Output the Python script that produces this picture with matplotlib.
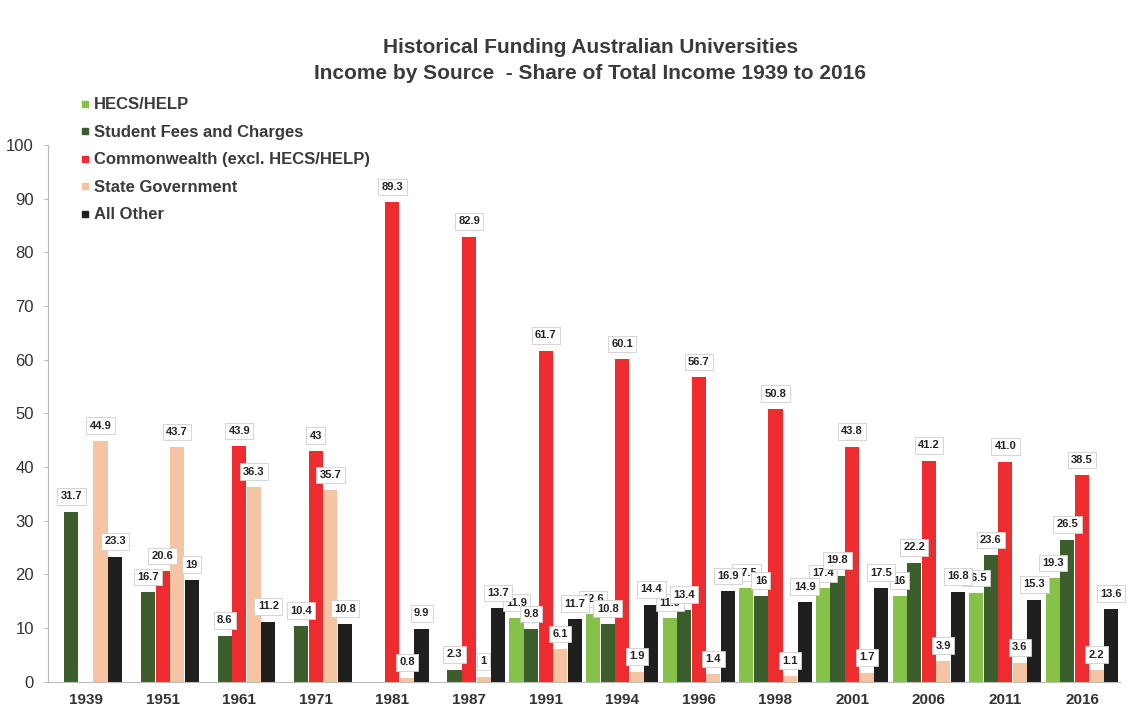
import numpy as np
import matplotlib
matplotlib.use("Agg")
import matplotlib.pyplot as plt
from matplotlib.lines import Line2D

plt.rcParams['font.family'] = ['Liberation Sans', 'DejaVu Sans']

years = ['1939', '1951', '1961', '1971', '1981', '1987', '1991', '1994',
         '1996', '1998', '2001', '2006', '2011', '2016']
series_names = ['HECS/HELP', 'Student Fees and Charges',
                'Commonwealth (excl. HECS/HELP)', 'State Government', 'All Other']

hecs = [0, 0, 0, 0, 0, 0, 11.9, 12.6, 11.9, 17.5, 17.4, 16.0, 16.5, 19.3]
fees = [31.7, 16.7, 8.6, 10.4, 0, 2.3, 9.8, 10.8, 13.4, 16, 19.8, 22.2, 23.6, 26.5]
cwlth = [0, 20.6, 43.9, 43, 89.3, 82.9, 61.7, 60.1, 56.7, 50.8, 43.8, 41.2, 41.0, 38.5]
state = [44.9, 43.7, 36.3, 35.7, 0.8, 1, 6.1, 1.9, 1.4, 1.1, 1.7, 3.9, 3.6, 2.2]
other = [23.3, 19, 11.2, 10.8, 9.9, 13.7, 11.7, 14.4, 16.9, 14.9, 17.5, 16.8, 15.3, 13.6]

colors = ['#86c24a', '#3b5e2c', '#ee2b2f', '#f5c4a3', '#1f1f1f']

fig = plt.figure(figsize=(11.35, 7.14), dpi=100)
ax = fig.add_axes([0.042, 0.045, 0.945, 0.752])

x = np.arange(len(years))
w = 0.19
all_series = [hecs, fees, cwlth, state, other]
for i, (vals, c) in enumerate(zip(all_series, colors)):
    pos = x + (i - 2) * w
    ax.bar(pos, vals, width=w * 0.97, color=c, zorder=2)
    for px, v in zip(pos, vals):
        if v == 0:
            continue
        txt = ('%g' % v) if v != 41.0 else '41.0'
        ax.annotate(txt, (px, v), xytext=(0, 11), textcoords='offset points',
                    ha='center', va='center', fontsize=8, fontweight='bold',
                    color='#222222', zorder=5 + i,
                    bbox=dict(boxstyle='square,pad=0.3', fc='white',
                              ec='#cfcfcf', lw=0.6))

ax.set_xlim(-0.5, 13.5)
ax.set_ylim(0, 100)
ax.set_yticks(range(0, 101, 10))
ax.set_xticks(x)
ax.set_xticklabels(years, fontweight='bold', fontsize=11, color='#333333')
ax.tick_params(axis='y', labelsize=12, colors='#333333', length=3,
               color='#bbbbbb', pad=7)
ax.tick_params(axis='x', length=0, pad=8)
for s in ['top', 'right']:
    ax.spines[s].set_visible(False)
ax.spines['left'].set_color('#bbbbbb')
ax.spines['bottom'].set_color('#bbbbbb')

fig.text(0.52, 0.915, 'Historical Funding Australian Universities\n'
         'Income by Source  - Share of Total Income 1939 to 2016',
         ha='center', va='center', fontsize=15, fontweight='bold',
         color='#3a3a3a', linespacing=1.45)

handles = [Line2D([0], [0], marker='s', linestyle='none', markersize=5,
                  color=c) for c in colors]
leg = fig.legend(handles, series_names, loc='upper left',
                 bbox_to_anchor=(72 / 1135, 1 - 89 / 714), frameon=False,
                 handlelength=0.6, handletextpad=0.2, labelspacing=0.75,
                 borderpad=0, prop={'size': 12, 'weight': 'bold'})
for t in leg.get_texts():
    t.set_color('#3a3a3a')

fig.savefig('out.png', dpi=100)
